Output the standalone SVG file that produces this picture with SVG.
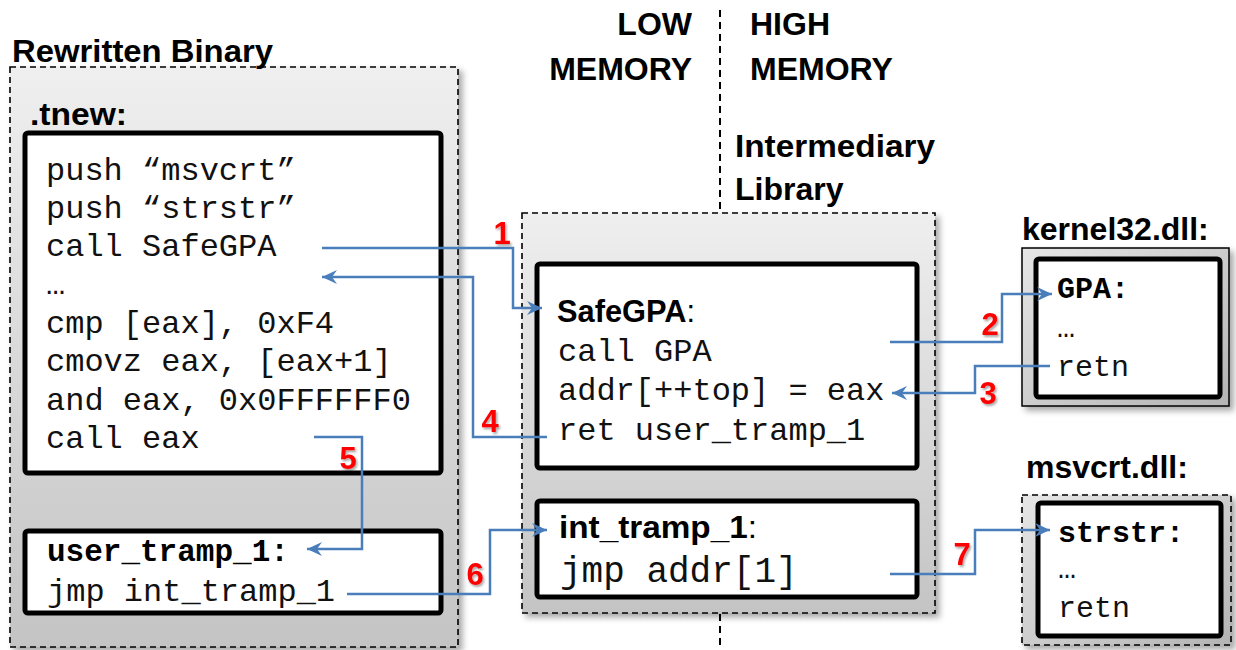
<svg xmlns="http://www.w3.org/2000/svg" width="1236" height="650" viewBox="0 0 1236 650">
  <defs>
    <linearGradient id="panelGrad" x1="0" y1="0" x2="0" y2="1">
      <stop offset="0" stop-color="#efefef"/>
      <stop offset="1" stop-color="#c4c4c4"/>
    </linearGradient>
    <linearGradient id="dllGrad" x1="0" y1="0" x2="1" y2="1">
      <stop offset="0" stop-color="#e6e6e6"/>
      <stop offset="1" stop-color="#b4b4b4"/>
    </linearGradient>
    <filter id="shadow" x="-10%" y="-10%" width="125%" height="125%">
      <feDropShadow dx="4" dy="4" stdDeviation="3" flood-color="#000" flood-opacity="0.35"/>
    </filter>
    <filter id="numShadow" x="-30%" y="-30%" width="170%" height="170%">
      <feDropShadow dx="1.5" dy="2" stdDeviation="1.2" flood-color="#000" flood-opacity="0.35"/>
    </filter>
    <marker id="arrow" markerUnits="userSpaceOnUse" markerWidth="16" markerHeight="14" refX="15" refY="7" orient="auto">
      <path d="M0,0 L15,7 L0,14 L5,7 Z" fill="#4a7ebb"/>
    </marker>
  </defs>
  <style>
    .title { font-family: "Liberation Sans", Arial, sans-serif; font-weight: bold; font-size: 32px; fill: #000; }
    .code { font-family: "Liberation Mono", "Courier New", monospace; font-size: 32px; fill: #111; }
    .codeb { font-family: "Liberation Mono", "Courier New", monospace; font-size: 30px; font-weight: bold; fill: #000; }
    .panel { fill: url(#panelGrad); stroke: #000; stroke-width: 1.6; stroke-dasharray: 6 4; }
    .box { fill: #fff; stroke: #000; stroke-width: 5; }
    .conn { fill: none; stroke: #4a7ebb; stroke-width: 2.5; marker-end: url(#arrow); }
    .num { font-family: "Liberation Sans", Arial, sans-serif; font-weight: bold; font-size: 31px; fill: #ff0000; text-anchor: middle; }
    .divider { stroke: #000; stroke-width: 2; stroke-dasharray: 7 5; fill: none; }
  </style>

  <!-- memory divider -->
  <g id="divider">
    <line class="divider" x1="720" y1="10" x2="720" y2="212"/>
    <line class="divider" x1="720" y1="614" x2="720" y2="650"/>
    <text class="title" x="692" y="35" text-anchor="end">LOW</text>
    <text class="title" x="692" y="80" text-anchor="end">MEMORY</text>
    <text class="title" x="750" y="35">HIGH</text>
    <text class="title" x="750" y="80">MEMORY</text>
  </g>

  <!-- rewritten binary -->
  <g id="rewritten-binary">
    <rect class="panel" x="10" y="67" width="448" height="580" filter="url(#shadow)"/>
    <text class="title" x="12" y="62" textLength="261" lengthAdjust="spacingAndGlyphs">Rewritten Binary</text>
    <text class="title" x="30" y="125" textLength="97" lengthAdjust="spacingAndGlyphs">.tnew:</text>
  </g>

  <g id="tnew">
    <rect class="box" x="25" y="133" width="416" height="340" rx="3"/>
    <text class="code" x="46" y="180">push “msvcrt”</text>
    <text class="code" x="46" y="218">push “strstr”</text>
    <text class="code" x="46" y="256">call SafeGPA</text>
    <text class="code" x="46" y="294">…</text>
    <text class="code" x="46" y="333">cmp [eax], 0xF4</text>
    <text class="code" x="46" y="371">cmovz eax, [eax+1]</text>
    <text class="code" x="46" y="410">and eax, 0x0FFFFFF0</text>
    <text class="code" x="46" y="448">call eax</text>
  </g>

  <g id="user-tramp">
    <rect class="box" x="25" y="531" width="416" height="82" rx="3"/>
    <text class="codeb" x="47" y="561" style="font-size:31px">user_tramp_1:</text>
    <text class="code" x="47" y="601">jmp int_tramp_1</text>
  </g>

  <!-- intermediary library -->
  <g id="intermediary-library">
    <text class="title" x="735" y="157" textLength="200" lengthAdjust="spacingAndGlyphs">Intermediary</text>
    <text class="title" x="735" y="200">Library</text>
    <rect class="panel" x="522" y="213" width="413" height="400" filter="url(#shadow)"/>
  </g>

  <g id="safegpa">
    <rect class="box" x="537" y="264" width="380" height="204" rx="3"/>
    <text class="title" x="557" y="322" style="font-size:31px" textLength="138" lengthAdjust="spacingAndGlyphs">SafeGPA<tspan font-weight="normal">:</tspan></text>
    <text class="code" x="558" y="361">call GPA</text>
    <text class="code" x="558" y="400">addr[++top] = eax</text>
    <text class="code" x="558" y="440">ret user_tramp_1</text>
  </g>

  <g id="int-tramp">
    <rect class="box" x="537" y="501" width="380" height="96" rx="3"/>
    <text class="title" x="559" y="538" textLength="198" lengthAdjust="spacingAndGlyphs">int_tramp_1<tspan font-weight="normal">:</tspan></text>
    <text class="code" x="560" y="582" style="font-size:36px">jmp addr[1]</text>
  </g>

  <!-- kernel32.dll -->
  <g id="kernel32">
    <text class="title" x="1022" y="240">kernel32.dll:</text>
    <rect x="1022" y="248" width="207" height="158" fill="url(#dllGrad)" stroke="#000" stroke-width="1.5" filter="url(#shadow)"/>
    <rect class="box" x="1036" y="259" width="184" height="138" rx="3"/>
    <text class="codeb" x="1057" y="298">GPA:</text>
    <text class="code" x="1057" y="337" style="font-size:30px">…</text>
    <text class="code" x="1057" y="376" style="font-size:30px">retn</text>
  </g>

  <!-- msvcrt.dll -->
  <g id="msvcrt">
    <text class="title" x="1026" y="478">msvcrt.dll:</text>
    <rect x="1022" y="495" width="209" height="150" fill="url(#dllGrad)" stroke="#000" stroke-width="1.6" stroke-dasharray="6 4" filter="url(#shadow)"/>
    <rect class="box" x="1038" y="503" width="183" height="133" rx="3"/>
    <text class="codeb" x="1058" y="542">strstr:</text>
    <text class="code" x="1058" y="578" style="font-size:30px">…</text>
    <text class="code" x="1058" y="617" style="font-size:30px">retn</text>
  </g>

  <!-- control-flow connectors -->
  <g id="connectors">
    <path class="conn" d="M322,248 H513 V308 H542"/>
    <path class="conn" d="M890,342 H1002 V294 H1052"/>
    <path class="conn" d="M1050,366 H975 V393 H892"/>
    <path class="conn" d="M547,437 H473 V277 H322"/>
    <path class="conn" d="M314,437 H362 V549 H307"/>
    <path class="conn" d="M347,594 H490 V530 H547"/>
    <path class="conn" d="M890,574 H975 V530 H1050"/>
    <g filter="url(#numShadow)">
      <text class="num" x="502" y="244">1</text>
      <text class="num" x="990" y="335">2</text>
      <text class="num" x="988" y="404">3</text>
      <text class="num" x="490" y="432">4</text>
      <text class="num" x="348" y="469">5</text>
      <text class="num" x="475" y="585">6</text>
      <text class="num" x="962" y="565">7</text>
    </g>
  </g>
</svg>
